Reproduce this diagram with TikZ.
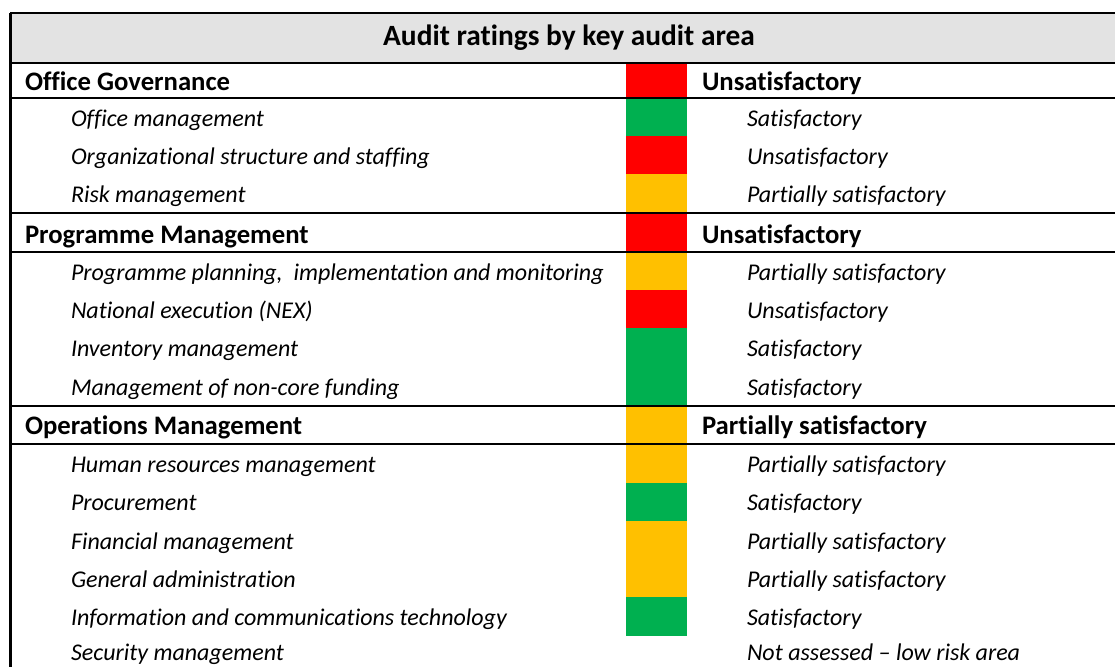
\documentclass[tikz,border=0pt]{standalone}
\usepackage{fontspec}
\setmainfont{Carlito}[Ligatures=NoCommon]
\definecolor{ratered}{HTML}{FF0000}
\definecolor{rategreen}{HTML}{00B050}
\definecolor{rateamber}{HTML}{FFC000}
\definecolor{headgray}{HTML}{E3E3E3}
\tikzset{
  area/.style={anchor=base west, inner sep=0pt, font=\bfseries\fontsize{26.7}{30}\selectfont},
  item/.style={anchor=base west, inner sep=0pt, font=\itshape\fontsize{24}{28}\selectfont}
}
\begin{document}
\begin{tikzpicture}[x=1pt,y=-1pt,line width=2pt]
\useasboundingbox (0,0) rectangle (1115,667);

% title band
\fill [headgray] (10,13) rectangle (1115,63);
\node [anchor=base, inner sep=0pt, font=\bfseries\fontsize{29.4}{34}\selectfont] (title) at (569,45) {Audit ratings by key audit area};

% rating colours
\foreach \top/\bot/\col in {63/98/ratered, 98/136/rategreen, 136/174/ratered,
  174/213/rateamber, 213/252/ratered, 252/290/rateamber, 290/328/ratered,
  328/406/rategreen, 406/444/rateamber, 444/483/rateamber, 483/521/rategreen,
  521/597/rateamber, 597/636/rategreen}
{
   \fill [\col] (626,\top) rectangle (687,\bot);
}

% rules
\foreach \y in {13,63,98,213,252,406,444}
{
   \draw (10,\y)--(1115,\y);
}
\draw [line width=3pt] (10,13)--(10,667);

% key audit areas
\foreach \y/\name/\lab/\rat in {90/gov/Office Governance/Unsatisfactory,
  243/prog/Programme Management/Unsatisfactory,
  434/ops/Operations Management/Partially satisfactory}
{
   \node [area] (\name) at (24,\y) {\lab};
   \node [area] (\name-rating) at (701,\y) {\rat};
}

% sub-areas
\foreach \y/\lab/\rat [count=\i] in {126/Office management/Satisfactory,
  164/Organizational structure and staffing/Unsatisfactory,
  202/Risk management/Partially satisfactory,
  280/{Programme planning,\ \ implementation and monitoring}/Partially satisfactory,
  318/National execution (NEX)/Unsatisfactory,
  356/Inventory management/Satisfactory,
  395/Management of non-core funding/Satisfactory,
  472/Human resources management/Partially satisfactory,
  510/Procurement/Satisfactory,
  549/Financial management/Partially satisfactory,
  587/General administration/Partially satisfactory,
  625/Information and communications technology/Satisfactory,
  660/Security management/Not assessed -- low risk area}
{
   \node [item] (sub\i) at (70,\y) {\lab};
   \node [item] (sub\i-rating) at (746,\y) {\rat};
}

\end{tikzpicture}
\end{document}
